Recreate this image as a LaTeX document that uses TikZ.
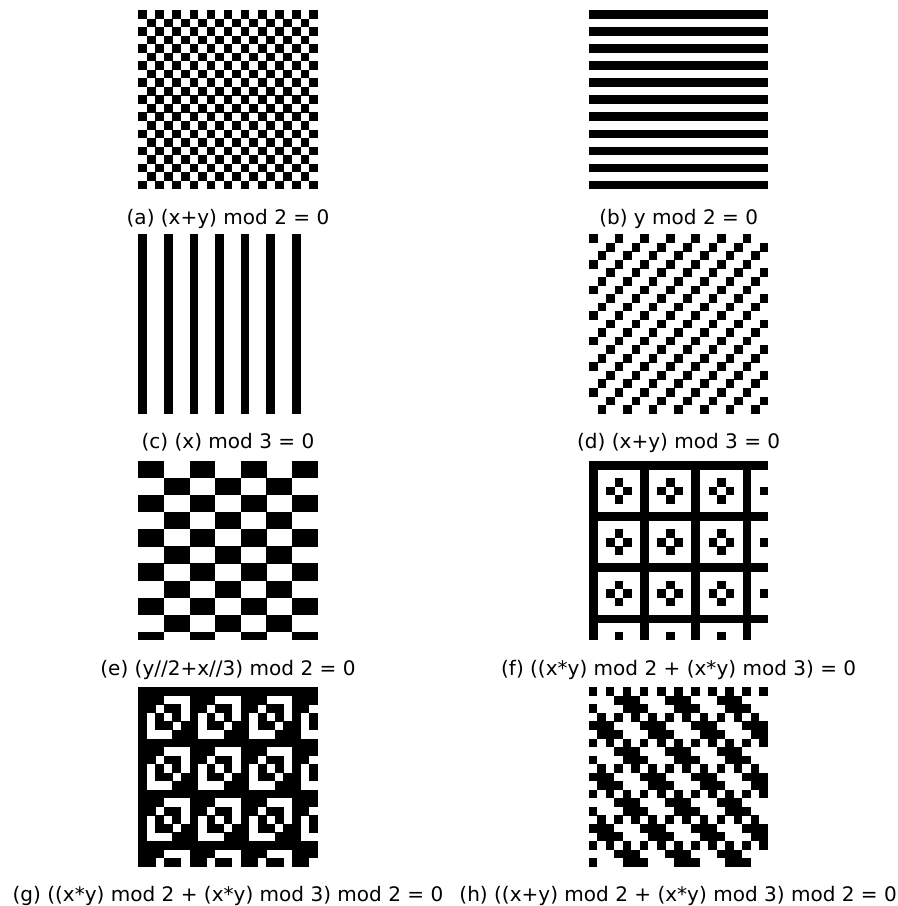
\documentclass[tikz,border=0pt]{standalone}
\usepackage{fontspec}
\setmainfont{DejaVu Sans}
\usetikzlibrary{positioning}
\def\cell{8.54}
\newcommand{\maskpanel}[4]{%
  \begin{scope}[shift={#2}]
    \foreach \i in {0,...,20}
      \foreach \j in {0,...,20} {
        \pgfmathtruncatemacro{\hit}{#3}
        \ifnum\hit=1 \fill[module] (\i*\cell,\j*\cell) rectangle ++(\cell+0.15,\cell+0.15); \fi
      }
    \node[caption] (#1) at (89.67,214.3) {#4};
  \end{scope}
}

\begin{document}
\begin{tikzpicture}[x=0.02cm, y=-0.02cm,
  module/.style={fill=black},
  caption/.style={font=\fontsize{11.4}{14}\selectfont, anchor=base, inner sep=0pt}]
\useasboundingbox (0,0) rectangle (897,906);

\maskpanel{capa}{(138.3,10)}{mod(\i+\j,2)==0}{(a) (x+y) mod 2 = 0}
\maskpanel{capb}{(589,10)}{mod(\j,2)==0}{(b) y mod 2 = 0}
\maskpanel{capc}{(138.3,234.3)}{mod(\i,3)==0}{(c) (x) mod 3 = 0}
\maskpanel{capd}{(589,234.3)}{mod(\i+\j,3)==0}{(d) (x+y) mod 3 = 0}
\maskpanel{cape}{(138.3,461)}{mod(floor(\j/2)+floor(\i/3),2)==0}{(e) (y//2+x//3) mod 2 = 0}
\maskpanel{capf}{(589,461)}{mod(\i*\j,2)+mod(\i*\j,3)==0}{(f) ((x*y) mod 2 + (x*y) mod 3) = 0}
\maskpanel{capg}{(138.3,687.3)}{mod(mod(\i*\j,2)+mod(\i*\j,3),2)==0}{(g) ((x*y) mod 2 + (x*y) mod 3) mod 2 = 0}
\maskpanel{caph}{(588.5,687.3)}{mod(mod(\i+\j,2)+mod(\i*\j,3),2)==0}{(h) ((x+y) mod 2 + (x*y) mod 3) mod 2 = 0}
\end{tikzpicture}
\end{document}
